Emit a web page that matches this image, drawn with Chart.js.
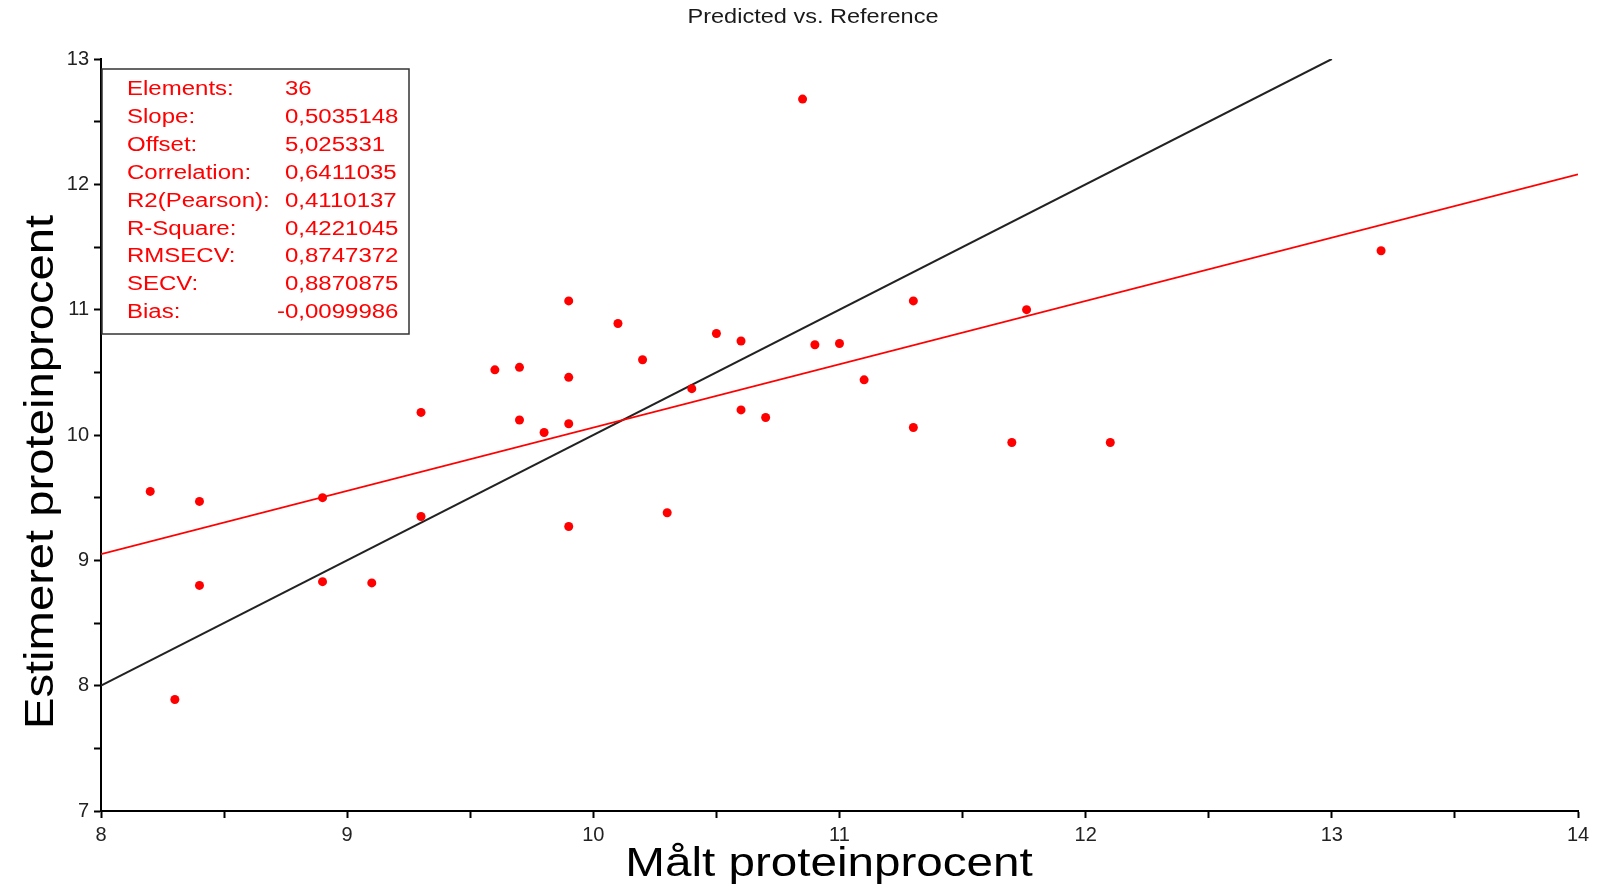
<!DOCTYPE html>
<html>
<head>
<meta charset="utf-8">
<script src="https://cdn.jsdelivr.net/npm/chart.js@4.4.1/dist/chart.umd.min.js"></script>
<style>
  html, body { margin: 0; padding: 0; background: #fff; }
  #wrap { width: 1597px; height: 892px; }
</style>
</head>
<body>
<div id="wrap"><canvas id="chart"></canvas></div>
<script>
const measuredX = [8.2, 8.4, 8.4, 8.3, 8.9, 8.9, 9.1, 9.3, 9.3, 9.6, 9.7, 9.7, 9.8, 9.9, 9.9, 9.9, 9.9,
                   10.1, 10.2, 10.3, 10.4, 10.5, 10.6, 10.6, 10.7, 10.85, 10.9, 11.0, 11.1, 11.3, 11.3,
                   11.7, 11.76, 12.1, 13.2];
const predictedY = [9.55, 9.47, 8.80, 7.89, 9.50, 8.83, 8.82, 10.18, 9.35, 10.52, 10.54, 10.12, 10.02, 11.07, 10.46, 10.09, 9.27,
                    10.89, 10.60, 9.38, 10.37, 10.81, 10.75, 10.20, 10.14, 12.68, 10.72, 10.73, 10.44, 11.07, 10.06,
                    9.94, 11.00, 9.94, 11.47];

// target line (black) and regression line (red) end points
const targetX = [8, 13];
const targetY = [8, 13];
const fitX = [8, 14];
const fitY = [9.05, 12.08];

// statistics box
const statLabels = ['Elements:', 'Slope:', 'Offset:', 'Correlation:', 'R2(Pearson):', 'R-Square:', 'RMSECV:', 'SECV:', 'Bias:'];
const statValues = ['36', '0,5035148', '5,025331', '0,6411035', '0,4110137', '0,4221045', '0,8747372', '0,8870875', '-0,0099986'];

const chartTitle = 'Predicted vs. Reference';
const xTitle = 'Målt proteinprocent';
const yTitle = 'Estimeret proteinprocent';

const FONT = '"Liberation Sans", Arial, Helvetica, sans-serif';

function toPoints(xs, ys) {
  return xs.map((x, i) => ({ x: x, y: ys[i] }));
}

// text drawn a little wider than Liberation Sans, like the original
function wideText(ctx, text, x, y, size, sx, align, color) {
  ctx.save();
  ctx.font = size + 'px ' + FONT;
  ctx.fillStyle = color;
  ctx.textAlign = align;
  ctx.textBaseline = 'alphabetic';
  ctx.translate(x, y);
  ctx.scale(sx, 1);
  ctx.fillText(text, 0, 0);
  ctx.restore();
}

const decorations = {
  id: 'decorations',
  afterDraw(chart) {
    const ctx = chart.ctx;

    wideText(ctx, chartTitle, 813, 23, 21, 1.12, 'center', '#1a1a1a');
    wideText(ctx, xTitle, 829, 876, 40, 1.19, 'center', '#000');

    ctx.save();
    ctx.translate(53, 472);
    ctx.rotate(-Math.PI / 2);
    wideText(ctx, yTitle, 0, 0, 40, 1.18, 'center', '#000');
    ctx.restore();

    // stats box
    const bx = 102, by = 69, bw = 307, bh = 265;
    ctx.save();
    ctx.fillStyle = '#fff';
    ctx.fillRect(bx, by, bw, bh);
    ctx.strokeStyle = '#333';
    ctx.lineWidth = 1.5;
    ctx.strokeRect(bx, by, bw, bh);
    ctx.restore();

    const sx = 1.2;
    ctx.font = '20px ' + FONT;
    const minusW = ctx.measureText('-').width * sx;
    for (let i = 0; i < statLabels.length; i++) {
      const y = 95 + i * 27.9;
      wideText(ctx, statLabels[i], 127, y, 20, sx, 'left', '#ff0000');
      const v = statValues[i];
      const vx = v.startsWith('-') ? 285 - minusW : 285;
      wideText(ctx, v, vx, y, 20, sx, 'left', '#ff0000');
    }
  }
};

function axis(min, max, fitSize, isX) {
  return {
    type: 'linear',
    min: min,
    max: max,
    afterFit(scale) {
      if (isX) scale.height = fitSize; else scale.width = fitSize;
    },
    border: { display: true, color: '#000', width: 2 },
    grid: { drawOnChartArea: false, drawTicks: true, tickLength: 7, tickColor: '#000', tickWidth: 2 },
    ticks: {
      stepSize: 0.5,
      autoSkip: false,
      maxRotation: 0,
      padding: 5,
      color: '#222',
      font: { family: FONT, size: 20 },
      callback: v => Number.isInteger(v) ? String(v) : ''
    }
  };
}

new Chart(document.getElementById('chart'), {
  type: 'scatter',
  data: {
    datasets: [
      {
        label: 'samples',
        data: toPoints(measuredX, predictedY),
        backgroundColor: '#ff0000',
        borderWidth: 0,
        pointRadius: 4.5,
        pointHoverRadius: 4.5
      },
      {
        label: 'regression',
        type: 'line',
        data: toPoints(fitX, fitY),
        borderColor: '#ff0000',
        borderWidth: 1.8,
        pointRadius: 0,
        fill: false
      },
      {
        label: 'target',
        type: 'line',
        data: toPoints(targetX, targetY),
        borderColor: '#222',
        borderWidth: 2,
        pointRadius: 0,
        fill: false
      }
    ]
  },
  options: {
    responsive: true,
    maintainAspectRatio: false,
    animation: false,
    layout: { padding: { top: 59, right: 19, left: 0, bottom: 0 } },
    plugins: {
      legend: { display: false },
      tooltip: { enabled: false },
      title: { display: false }
    },
    scales: {
      x: axis(8, 14, 81, true),
      y: axis(7, 13, 101, false)
    }
  },
  plugins: [decorations]
});
</script>
</body>
</html>
